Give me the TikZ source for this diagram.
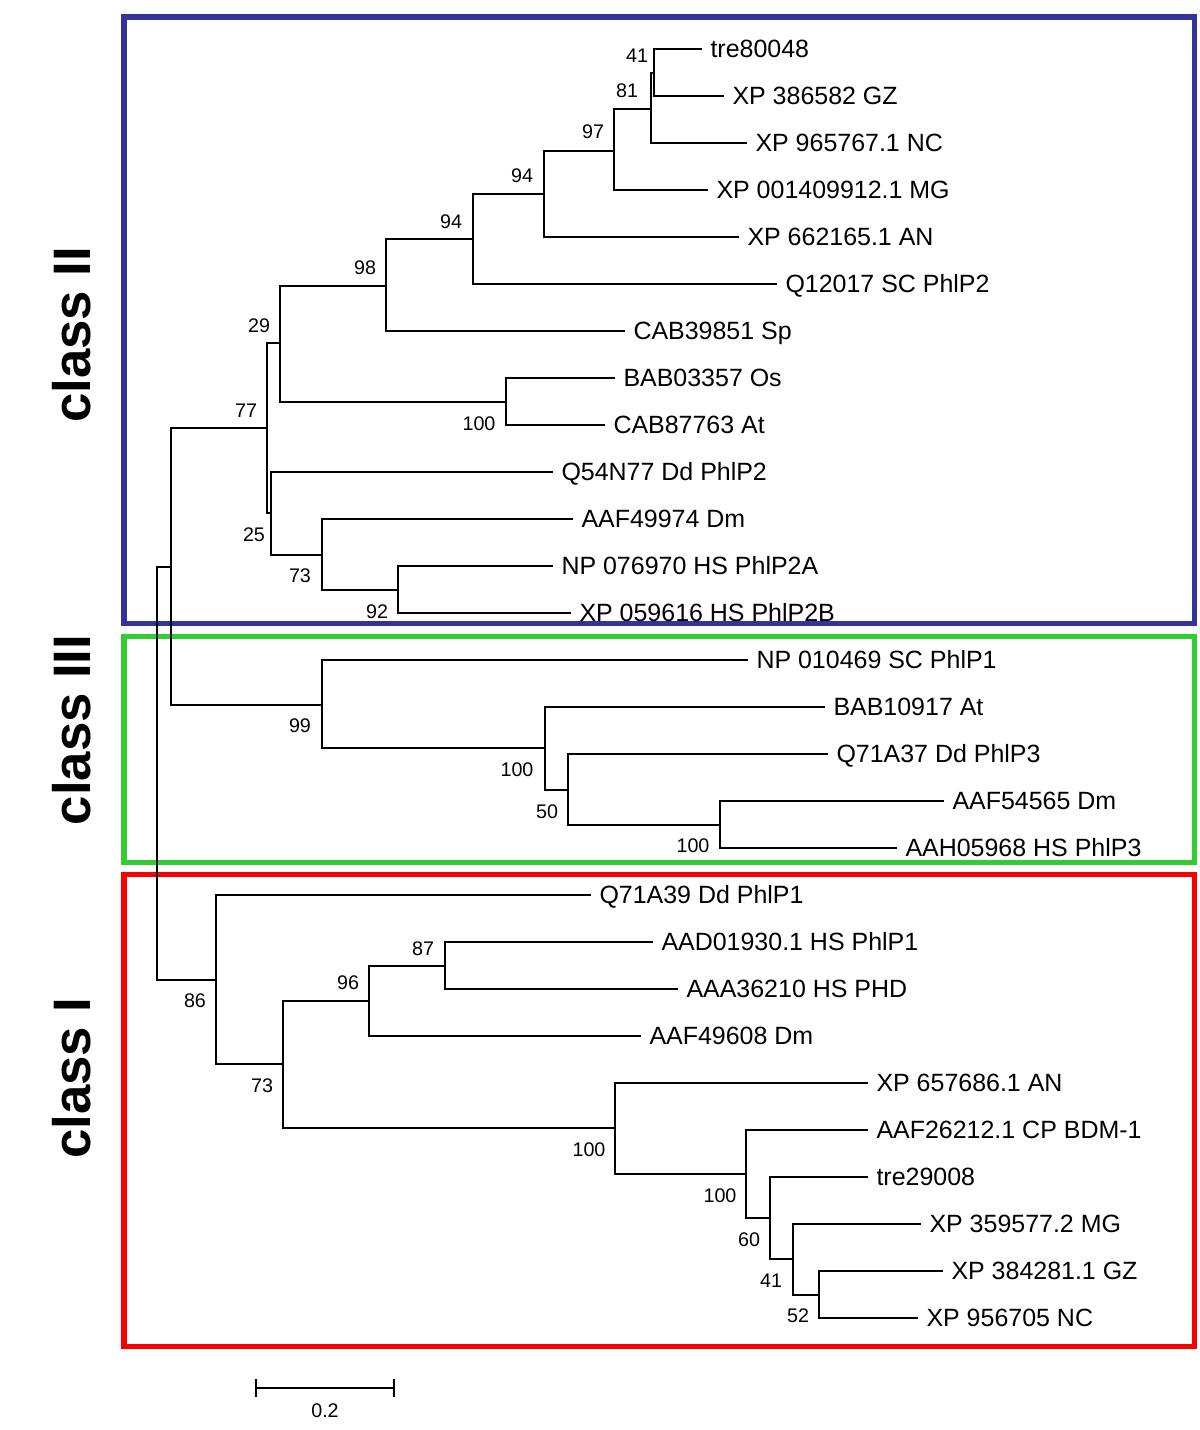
\documentclass[tikz,border=0pt]{standalone}
\usepackage{fontspec}
\setmainfont{Liberation Sans}
\usetikzlibrary{positioning}
\definecolor{clsblue}{RGB}{51,51,153}
\definecolor{clsgreen}{RGB}{51,204,51}
\definecolor{clsred}{RGB}{250,0,0}

\begin{document}
\begin{tikzpicture}[
  x=0.01cm, y=-0.01cm,
  branch/.style={line width=0.02cm},
  leaf/.style={anchor=west, inner xsep=0.085cm, inner ysep=0pt, outer sep=0pt,
               text height=5.1pt, text depth=0pt, font=\fontsize{7.1pt}{8pt}\selectfont},
  boot/.style={inner sep=0pt, font=\fontsize{5.6pt}{6pt}\selectfont},
  classbox/.style={line width=0.05cm},
  classname/.style={rotate=90, inner sep=0pt, font=\fontsize{15pt}{16pt}\selectfont\bfseries}
]
  \useasboundingbox (0,0) rectangle (1200,1430);

  \draw[classbox, clsblue]  (124,17)  rectangle (1194,623);
  \draw[classbox, clsgreen] (124,636) rectangle (1194,862);
  \draw[classbox, clsred]   (124,874) rectangle (1194,1346);

  \node[classname] (cII)  at (72,335)  {class II};
  \node[classname] (cIII) at (72,730)  {class III};
  \node[classname] (cI)   at (72,1078) {class I};

  % class II
  \node[leaf] (l1)  at (702,49)   {tre80048};
  \node[leaf] (l2)  at (724,96)   {XP 386582 GZ};
  \node[leaf] (l3)  at (747,143)  {XP 965767.1 NC};
  \node[leaf] (l4)  at (708,190)  {XP 001409912.1 MG};
  \node[leaf] (l5)  at (739,237)  {XP 662165.1 AN};
  \node[leaf] (l6)  at (777,284)  {Q12017 SC PhlP2};
  \node[leaf] (l7)  at (625,331)  {CAB39851 Sp};
  \node[leaf] (l8)  at (615,378)  {BAB03357 Os};
  \node[leaf] (l9)  at (605,425)  {CAB87763 At};
  \node[leaf] (l10) at (553,472)  {Q54N77 Dd PhlP2};
  \node[leaf] (l11) at (573,519)  {AAF49974 Dm};
  \node[leaf] (l12) at (553,566)  {NP 076970 HS PhlP2A};
  \node[leaf] (l13) at (571,613)  {XP 059616 HS PhlP2B};
  % class III
  \node[leaf] (l14) at (748,660)  {NP 010469 SC PhlP1};
  \node[leaf] (l15) at (825,707)  {BAB10917 At};
  \node[leaf] (l16) at (828,754)  {Q71A37 Dd PhlP3};
  \node[leaf] (l17) at (944,801)  {AAF54565 Dm};
  \node[leaf] (l18) at (897,848)  {AAH05968 HS PhlP3};
  % class I
  \node[leaf] (l19) at (591,895)  {Q71A39 Dd PhlP1};
  \node[leaf] (l20) at (653,942)  {AAD01930.1 HS PhlP1};
  \node[leaf] (l21) at (678,989)  {AAA36210 HS PHD};
  \node[leaf] (l22) at (641,1036) {AAF49608 Dm};
  \node[leaf] (l23) at (868,1083) {XP 657686.1 AN};
  \node[leaf] (l24) at (868,1130) {AAF26212.1 CP BDM-1};
  \node[leaf] (l25) at (868,1177) {tre29008};
  \node[leaf] (l26) at (921,1224) {XP 359577.2 MG};
  \node[leaf] (l27) at (943,1271) {XP 384281.1 GZ};
  \node[leaf] (l28) at (918,1318) {XP 956705 NC};

  \coordinate (n41a)  at (654,73);
  \coordinate (n81)   at (651,109);
  \coordinate (n97)   at (614,151);
  \coordinate (n94a)  at (544,194);
  \coordinate (n94b)  at (473,239);
  \coordinate (n98)   at (386,286);
  \coordinate (n100a) at (506,402);
  \coordinate (n29)   at (280,343);
  \coordinate (n92)   at (398,590);
  \coordinate (n73a)  at (322,555);
  \coordinate (n25)   at (271,513);
  \coordinate (n77)   at (267,428);
  \coordinate (n100c) at (720,825);
  \coordinate (n50)   at (568,790);
  \coordinate (n100b) at (545,748);
  \coordinate (n99)   at (322,705);
  \coordinate (nII)   at (171,567);
  \coordinate (n52)   at (819,1295);
  \coordinate (n41b)  at (793,1259);
  \coordinate (n60)   at (770,1218);
  \coordinate (n100e) at (746,1174);
  \coordinate (n100d) at (615,1128);
  \coordinate (n87)   at (445,966);
  \coordinate (n96)   at (369,1001);
  \coordinate (n73b)  at (283,1064);
  \coordinate (n86)   at (216,980);
  \coordinate (root)  at (157,760);

  \draw[branch] (l1) -| (n41a) |- (l2);
  \draw[branch] (n41a) -| (n81) |- (l3);
  \draw[branch] (n81) -| (n97) |- (l4);
  \draw[branch] (n97) -| (n94a) |- (l5);
  \draw[branch] (n94a) -| (n94b) |- (l6);
  \draw[branch] (n94b) -| (n98) |- (l7);
  \draw[branch] (l8) -| (n100a) |- (l9);
  \draw[branch] (n98) -| (n29) |- (n100a);
  \draw[branch] (l12) -| (n92) |- (l13);
  \draw[branch] (l11) -| (n73a) |- (n92);
  \draw[branch] (l10) -| (n25) |- (n73a);
  \draw[branch] (n29) -| (n77) |- (n25);
  \draw[branch] (l17) -| (n100c) |- (l18);
  \draw[branch] (l16) -| (n50) |- (n100c);
  \draw[branch] (l15) -| (n100b) |- (n50);
  \draw[branch] (l14) -| (n99) |- (n100b);
  \draw[branch] (n77) -| (nII) |- (n99);
  \draw[branch] (l27) -| (n52) |- (l28);
  \draw[branch] (l26) -| (n41b) |- (n52);
  \draw[branch] (l25) -| (n60) |- (n41b);
  \draw[branch] (l24) -| (n100e) |- (n60);
  \draw[branch] (l23) -| (n100d) |- (n100e);
  \draw[branch] (l20) -| (n87) |- (l21);
  \draw[branch] (n87) -| (n96) |- (l22);
  \draw[branch] (n96) -| (n73b) |- (n100d);
  \draw[branch] (l19) -| (n86) |- (n73b);
  \draw[branch] (nII) -| (root) |- (n86);

  \node[boot] (b1)  at (637,56)   {41};
  \node[boot] (b2)  at (627,91)   {81};
  \node[boot] (b3)  at (593,132)  {97};
  \node[boot] (b4)  at (522,176)  {94};
  \node[boot] (b5)  at (451,222)  {94};
  \node[boot] (b6)  at (365,268)  {98};
  \node[boot] (b7)  at (259,326)  {29};
  \node[boot] (b8)  at (479,424)  {100};
  \node[boot] (b9)  at (246,411)  {77};
  \node[boot] (b10) at (254,535)  {25};
  \node[boot] (b11) at (300,576)  {73};
  \node[boot] (b12) at (377,612)  {92};
  \node[boot] (b13) at (300,726)  {99};
  \node[boot] (b14) at (517,770)  {100};
  \node[boot] (b15) at (547,812)  {50};
  \node[boot] (b16) at (693,846)  {100};
  \node[boot] (b17) at (195,1001) {86};
  \node[boot] (b18) at (423,949)  {87};
  \node[boot] (b19) at (348,983)  {96};
  \node[boot] (b20) at (262,1086) {73};
  \node[boot] (b21) at (589,1150) {100};
  \node[boot] (b22) at (720,1196) {100};
  \node[boot] (b23) at (749,1240) {60};
  \node[boot] (b24) at (771,1281) {41};
  \node[boot] (b25) at (798,1316) {52};

  \coordinate (sbl) at (256,1388);
  \coordinate (sbr) at (394,1388);
  \draw[branch] (sbl) -- (sbr);
  \draw[branch] (sbl) ++(0,-9) -- ++(0,18);
  \draw[branch] (sbr) ++(0,-9) -- ++(0,18);
  \node[boot] (sblabel) at (325,1411) {0.2};
\end{tikzpicture}
\end{document}
